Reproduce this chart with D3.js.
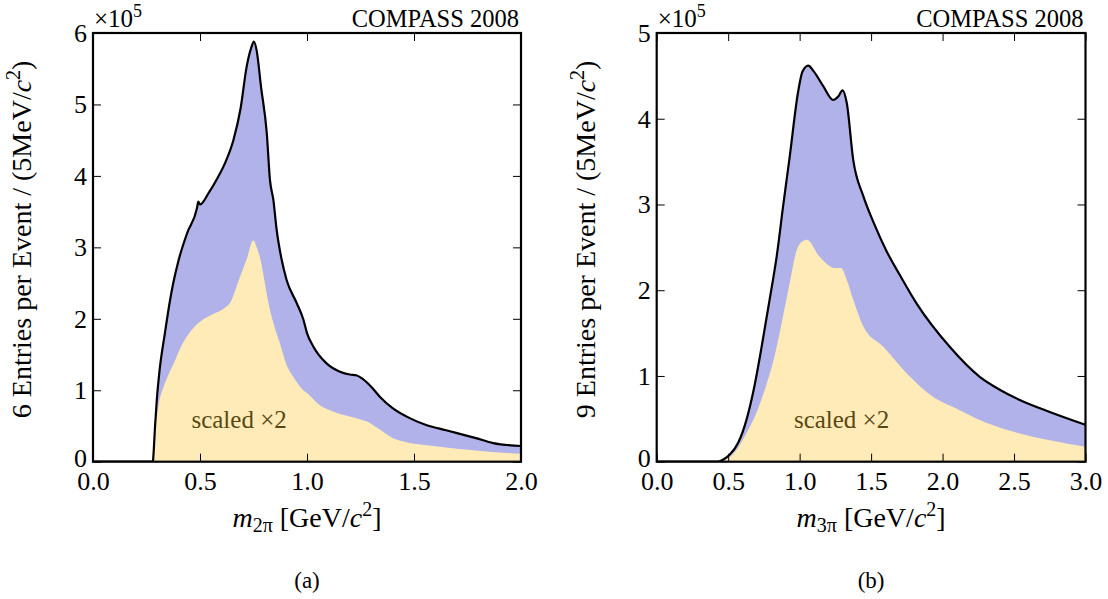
<!DOCTYPE html>
<html>
<head>
<meta charset="utf-8">
<script src="https://cdn.jsdelivr.net/npm/d3@7"></script>
<style>
  body { margin: 0; background: #fff; }
</style>
</head>
<body>
<div id="chart"></div>
<script>
// ---- data, values in units of 10^5 ----
const m2piTotalX = [0, 0.28, 0.282, 0.29, 0.298, 0.31, 0.336, 0.36, 0.375, 0.40, 0.44, 0.486, 0.492, 0.50, 0.54, 0.578, 0.62, 0.656, 0.69, 0.718, 0.740, 0.752, 0.765, 0.785, 0.812, 0.827, 0.843, 0.858, 0.88, 0.905, 0.952, 0.983, 1.0, 1.03, 1.09, 1.154, 1.20, 1.23, 1.26, 1.30, 1.34, 1.40, 1.48, 1.56, 1.65, 1.79, 1.87, 2.0];
const m2piTotalY = [0, 0, 0.07, 0.5, 0.86, 1.25, 1.80, 2.26, 2.50, 2.82, 3.20, 3.55, 3.64, 3.60, 3.76, 3.95, 4.20, 4.50, 4.95, 5.53, 5.80, 5.88, 5.75, 5.25, 4.60, 3.94, 3.66, 3.25, 2.85, 2.54, 2.22, 1.99, 1.80, 1.61, 1.38, 1.26, 1.22, 1.21, 1.16, 1.05, 0.91, 0.75, 0.61, 0.51, 0.44, 0.33, 0.26, 0.22];
const m2piScaledX = [0.283, 0.29, 0.298, 0.305, 0.33, 0.35, 0.375, 0.42, 0.46, 0.50, 0.55, 0.61, 0.64, 0.687, 0.72, 0.749, 0.765, 0.785, 0.80, 0.82, 0.843, 0.874, 0.905, 0.936, 0.983, 1.0, 1.06, 1.09, 1.14, 1.25, 1.29, 1.33, 1.40, 1.48, 1.56, 1.70, 1.85, 2.0];
const m2piScaledY = [0, 0.40, 0.62, 0.77, 1.05, 1.20, 1.36, 1.66, 1.84, 1.96, 2.05, 2.14, 2.22, 2.59, 2.85, 3.10, 3.00, 2.80, 2.55, 2.22, 1.94, 1.65, 1.35, 1.19, 1.00, 0.96, 0.79, 0.74, 0.68, 0.59, 0.55, 0.47, 0.33, 0.26, 0.23, 0.18, 0.14, 0.11];

const m3piTotalX = [0, 0.43, 0.47, 0.51, 0.57, 0.63, 0.68, 0.73, 0.79, 0.84, 0.886, 0.93, 0.99, 1.02, 1.06, 1.10, 1.165, 1.235, 1.27, 1.30, 1.33, 1.375, 1.445, 1.52, 1.61, 1.70, 1.82, 2.05, 2.26, 2.40, 2.54, 2.75, 3.0];
const m3piTotalY = [0, 0, 0.03, 0.08, 0.22, 0.50, 0.85, 1.30, 1.89, 2.40, 3.00, 3.55, 4.32, 4.55, 4.62, 4.55, 4.38, 4.22, 4.26, 4.33, 4.18, 3.52, 3.10, 2.78, 2.45, 2.18, 1.84, 1.34, 0.99, 0.84, 0.72, 0.58, 0.43];
const m3piScaledX = [0.46, 0.55, 0.63, 0.70, 0.76, 0.82, 0.86, 0.93, 0.98, 1.02, 1.05, 1.14, 1.245, 1.29, 1.33, 1.375, 1.445, 1.585, 1.75, 1.94, 2.07, 2.31, 2.54, 2.75, 3.0];
const m3piScaledY = [0, 0.12, 0.34, 0.58, 0.86, 1.20, 1.50, 2.08, 2.47, 2.57, 2.59, 2.39, 2.26, 2.26, 2.12, 1.89, 1.58, 1.34, 1.03, 0.75, 0.64, 0.45, 0.33, 0.25, 0.175];

const xTicksA = [0, 0.5, 1.0, 1.5, 2.0];
const yTicksA = [0, 1, 2, 3, 4, 5, 6];
const xTicksB = [0, 0.5, 1.0, 1.5, 2.0, 2.5, 3.0];
const yTicksB = [0, 1, 2, 3, 4, 5];

const blueFill = "#b2b2ea";
const yellowFill = "#feebb7";
const noteColor = "#5a4814";

const svg = d3.select("#chart").append("svg")
    .attr("width", 1108)
    .attr("height", 599);

function drawPanel(p) {
    const g = svg.append("g");
    const x = d3.scaleLinear().domain([p.xTicks[0], p.xTicks[p.xTicks.length-1]]).range([p.left, p.right]);
    const y = d3.scaleLinear().domain([0, p.yTicks[p.yTicks.length-1]]).range([p.bottom, p.top]);

    const total = p.totalX.map((m,i) => ({m: m, v: p.totalY[i]}));
    const scaled = p.scaledX.map((m,i) => ({m: m, v: p.scaledY[i]}));

    const clipId = "clip-" + p.key;
    g.append("clipPath").attr("id", clipId)
        .append("rect")
        .attr("x", p.left).attr("y", p.top)
        .attr("width", p.right - p.left).attr("height", p.bottom - p.top);

    const area = d3.area()
        .x(d => x(d.m))
        .y0(y(0))
        .y1(d => y(d.v))
        .curve(d3.curveMonotoneX);
    const line = d3.line()
        .x(d => x(d.m))
        .y(d => y(d.v))
        .curve(d3.curveMonotoneX);

    const plot = g.append("g").attr("clip-path", `url(#${clipId})`);
    plot.append("path").datum(total).attr("d", area).attr("fill", blueFill);
    plot.append("path").datum(scaled).attr("d", area).attr("fill", yellowFill);
    plot.append("path").datum(total).attr("d", line)
        .attr("fill", "none").attr("stroke", "#000").attr("stroke-width", 2.2)
        .attr("stroke-linejoin", "round");

    // axes, ticks pointing inwards on every side
    const fmtX = d3.format(".1f");
    const ax = g.append("g").attr("transform", `translate(0,${p.bottom})`)
        .call(d3.axisBottom(x).tickValues(p.xTicks).tickSize(-8).tickPadding(10).tickFormat(fmtX));
    const ay = g.append("g").attr("transform", `translate(${p.left},0)`)
        .call(d3.axisLeft(y).tickValues(p.yTicks).tickSize(-8).tickPadding(6).tickFormat(d3.format("d")));
    const at = g.append("g").attr("transform", `translate(0,${p.top})`)
        .call(d3.axisTop(x).tickValues(p.xTicks).tickSize(-8).tickFormat(""));
    const ar = g.append("g").attr("transform", `translate(${p.right},0)`)
        .call(d3.axisRight(y).tickValues(p.yTicks).tickSize(-8).tickFormat(""));
    [ax, ay, at, ar].forEach(a => {
        a.attr("font-size", 26);
        a.select(".domain").remove();
        a.selectAll(".tick line").attr("stroke", "#000").attr("stroke-width", 1);
    });
    ay.selectAll(".tick text").filter(d => d === 0).attr("dy", "0.2em");

    g.append("rect")
        .attr("x", p.left).attr("y", p.top)
        .attr("width", p.right - p.left).attr("height", p.bottom - p.top)
        .attr("fill", "none").attr("stroke", "#000").attr("stroke-width", 2.2);

    // exponent, experiment tag
    const ex = g.append("text").attr("x", p.left + 1).attr("y", p.top - 6).attr("font-size", 25);
    ex.append("tspan").text("\u00d710");
    ex.append("tspan").attr("dy", -10).attr("font-size", 18).text("5");

    g.append("text").attr("x", p.right - 2).attr("y", p.top - 6)
        .attr("text-anchor", "end").attr("font-size", 24.5)
        .text("COMPASS 2008");

    g.append("text").attr("x", x(p.noteAt[0])).attr("y", y(p.noteAt[1]))
        .attr("font-size", 25).attr("fill", noteColor)
        .text("scaled \u00d72");

    // x title
    const cx = (p.left + p.right) / 2;
    const xt = g.append("text").attr("x", cx).attr("y", 527)
        .attr("text-anchor", "middle").attr("font-size", 28);
    xt.append("tspan").attr("font-style", "italic").text("m");
    xt.append("tspan").attr("font-size", 20).attr("dy", 5).text(p.sub);
    xt.append("tspan").attr("dy", -5).text(" [GeV/");
    xt.append("tspan").attr("font-style", "italic").text("c");
    xt.append("tspan").attr("font-size", 20).attr("dy", -11).text("2");
    xt.append("tspan").attr("dy", 11).text("]");

    // y title
    const cy = (p.top + p.bottom) / 2 - 8;
    const yt = g.append("text")
        .attr("transform", `translate(${p.left - 62},${cy}) rotate(-90)`)
        .attr("text-anchor", "middle").attr("font-size", 28);
    yt.append("tspan").text(p.ylead + " Entries per Event / (5MeV/");
    yt.append("tspan").attr("font-style", "italic").text("c");
    yt.append("tspan").attr("font-size", 20).attr("dy", -11).text("2");
    yt.append("tspan").attr("dy", 11).text(")");

    // sub caption
    g.append("text").attr("x", cx).attr("y", 588)
        .attr("text-anchor", "middle").attr("font-size", 23)
        .text(p.caption);
}

drawPanel({
    key: "a", left: 93, right: 521, top: 33, bottom: 461.7,
    xTicks: xTicksA, yTicks: yTicksA,
    totalX: m2piTotalX, totalY: m2piTotalY,
    scaledX: m2piScaledX, scaledY: m2piScaledY,
    noteAt: [0.46, 0.47], sub: "2\u03c0", ylead: "6", caption: "(a)"
});
drawPanel({
    key: "b", left: 656.7, right: 1085.5, top: 33, bottom: 461.7,
    xTicks: xTicksB, yTicks: yTicksB,
    totalX: m3piTotalX, totalY: m3piTotalY,
    scaledX: m3piScaledX, scaledY: m3piScaledY,
    noteAt: [0.96, 0.39], sub: "3\u03c0", ylead: "9", caption: "(b)"
});

// serif everywhere, set on each text element
svg.selectAll("text").attr("font-family", "Liberation Serif");
svg.selectAll("g").attr("font-family", "Liberation Serif");
</script>
</body>
</html>
